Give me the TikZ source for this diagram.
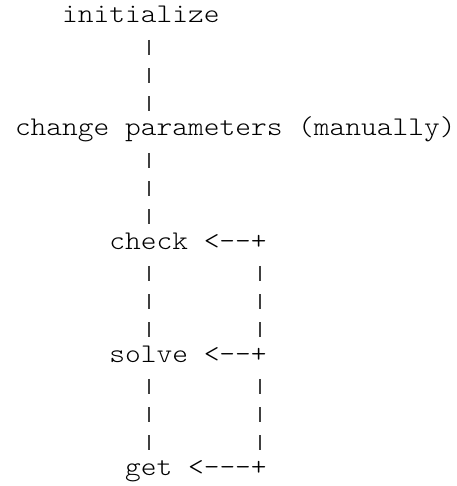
\documentclass[tikz,border=0pt]{standalone}
\usepackage{fontspec}
\setmonofont{Latin Modern Mono Light}
\usepackage{graphicx}
\usetikzlibrary{calc}

% monospaced row text, widened to the character grid
\newcommand\gridtext[1]{\scalebox{1.11}[1]{#1}}

\tikzset{
  rowtext/.style={anchor=base west, inner sep=0pt, outer sep=0pt,
    font=\ttfamily\fontsize{27}{27}\selectfont},
  pipe/.style={line width=1.8pt, black!75, dash pattern=on 15pt off 13.25pt}
}

\begin{document}
\begin{tikzpicture}[x=1pt, y=-1pt]
  \useasboundingbox (0,0) rectangle (456,486);
  % grid: column c starts at 15 + 15.73c, row r baseline at 23 + 28.25r

  \node[rowtext] (init)   at ({15+3*15.73}, {23+0*28.25})  {\gridtext{initialize}};
  \node[rowtext] (change) at ({15+0*15.73}, {23+4*28.25})  {\gridtext{change parameters (manually)}};
  \node[rowtext] (check)  at ({15+6*15.73}, {23+8*28.25})  {\gridtext{check}};
  \node[rowtext] (ret1)   at ({15+12*15.73},{23+8*28.25})  {\gridtext{<--+}};
  \node[rowtext] (solve)  at ({15+6*15.73}, {23+12*28.25}) {\gridtext{solve}};
  \node[rowtext] (ret2)   at ({15+12*15.73},{23+12*28.25}) {\gridtext{<--+}};
  \node[rowtext] (get)    at ({15+7*15.73}, {23+16*28.25}) {\gridtext{get}};
  \node[rowtext] (ret3)   at ({15+11*15.73},{23+16*28.25}) {\gridtext{<---+}};

  % column centres of the two vertical runs
  \coordinate (c8)  at (149, 0);
  \coordinate (c15) at (260, 0);

  % main flow, top to bottom
  \draw[pipe] ($(init.base -| c8)+(0,16.95)$)   -- ($(change.base -| c8)+(0,-24.5)$);
  \draw[pipe] ($(change.base -| c8)+(0,16.95)$) -- ($(check.base -| c8)+(0,-24.5)$);
  \draw[pipe] ($(check.base -| c8)+(0,16.95)$)  -- ($(solve.base -| c8)+(0,-24.5)$);
  \draw[pipe] ($(solve.base -| c8)+(0,16.95)$)  -- ($(get.base -| c8)+(0,-24.5)$);

  % return loop on the right
  \draw[pipe] ($(ret1.base -| c15)+(0,16.95)$) -- ($(ret2.base -| c15)+(0,-24.5)$);
  \draw[pipe] ($(ret2.base -| c15)+(0,16.95)$) -- ($(ret3.base -| c15)+(0,-24.5)$);
\end{tikzpicture}
\end{document}
